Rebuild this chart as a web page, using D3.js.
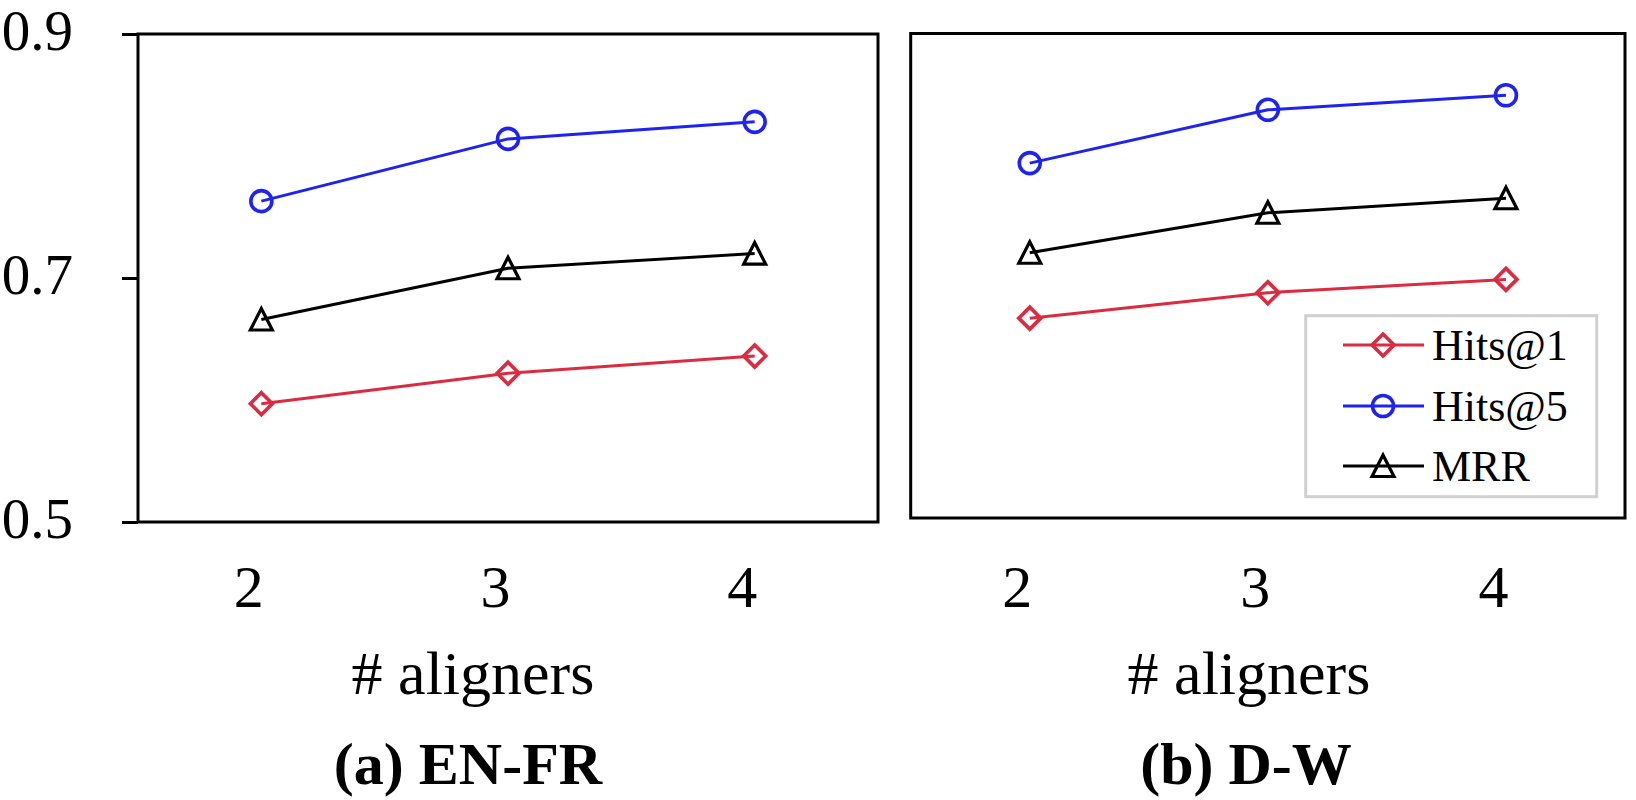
<!DOCTYPE html>
<html>
<head>
<meta charset="utf-8">
<script src="https://cdn.jsdelivr.net/npm/d3@7/dist/d3.min.js"></script>
<style>
  html, body { margin: 0; padding: 0; background: #fff; }
  svg { display: block; }
  text { font-family: "Liberation Serif", "Times New Roman", serif; fill: #000; }
</style>
</head>
<body>
<svg id="chart" width="1636" height="800"></svg>
<script>
// ---------- data ----------
const categories = [2, 3, 4];
const seriesNames = ["Hits@1", "Hits@5", "MRR"];
const enfrHits1 = [0.597, 0.622, 0.636];
const enfrHits5 = [0.763, 0.814, 0.828];
const enfrMRR   = [0.666, 0.708, 0.720];
const dwHits1   = [0.665, 0.686, 0.697];
const dwHits5   = [0.793, 0.837, 0.849];
const dwMRR     = [0.719, 0.752, 0.764];
const yTicks = [0.5, 0.7, 0.9];
const yTickLabels = ["0.5", "0.7", "0.9"];
const panelTitles = ["(a) EN-FR", "(b) D-W"];
const xTitle = "# aligners";

// ---------- styles ----------
const colors = { "Hits@1": "#dc2a40", "Hits@5": "#1e22f2", "MRR": "#000000" };
const symbolsOf = { "Hits@1": "diamond", "Hits@5": "circle", "MRR": "triangle" };

const svg = d3.select("#chart");

const panels = [
  { left: 138, right: 878, top: 34, bottom: 522, title: panelTitles[0],
    series: [enfrHits1, enfrHits5, enfrMRR], yAxis: true,
    xTitleX: 473, titleX: 468, legend: false },
  { left: 910.7, right: 1625, top: 33.5, bottom: 518, title: panelTitles[1],
    series: [dwHits1, dwHits5, dwMRR], yAxis: false,
    xTitleX: 1249, titleX: 1246, legend: true }
];

function drawMarker(g, type, color) {
  if (type === "circle") {
    g.append("circle").attr("r", 10.5).attr("fill", "none")
      .attr("stroke", color).attr("stroke-width", 3.6);
  } else if (type === "diamond") {
    g.append("path").attr("d", "M0,-11 L11,0 L0,11 L-11,0 Z").attr("fill", "none")
      .attr("stroke", color).attr("stroke-width", 3.6).attr("stroke-linejoin", "miter");
  } else {
    g.append("path").attr("d", "M0,-11 L11,10.5 L-11,10.5 Z").attr("fill", "none")
      .attr("stroke", color).attr("stroke-width", 3.2).attr("stroke-linejoin", "miter");
  }
}

panels.forEach(p => {
  const x = d3.scaleLinear().domain([1.5, 4.5]).range([p.left, p.right]);
  const y = d3.scaleLinear().domain([0.5, 0.9]).range([p.bottom, p.top]);
  const g = svg.append("g");

  // y axis (left panel only)
  if (p.yAxis) {
    const ya = g.append("g").attr("transform", `translate(${p.left},0)`)
      .call(d3.axisLeft(y).tickValues(yTicks).tickFormat((d, i) => yTickLabels[i])
        .tickSize(16).tickSizeOuter(0).tickPadding(49));
    ya.select(".domain").remove();
    ya.selectAll(".tick line").attr("stroke", "#000").attr("stroke-width", 3);
    ya.selectAll(".tick text").attr("font-size", 57).attr("dy", "0.27em")
      .style("font-family", "'Liberation Serif', serif");
  }

  // x axis labels
  const xa = g.append("g").attr("transform", `translate(0,${p.bottom})`)
    .call(d3.axisBottom(x).tickValues(categories).tickFormat(d3.format("d")).tickSize(0).tickPadding(0));
  xa.select(".domain").remove();
  xa.selectAll(".tick text").attr("font-size", 60).attr("dy", 0)
    .attr("x", -13).attr("y", 607 - p.bottom)
    .style("font-family", "'Liberation Serif', serif");

  // frame
  g.append("rect").attr("x", p.left).attr("y", p.top)
    .attr("width", p.right - p.left).attr("height", p.bottom - p.top)
    .attr("fill", "none").attr("stroke", "#000").attr("stroke-width", 3);

  // lines + markers
  const line = d3.line().x((d, i) => x(categories[i])).y(d => y(d));
  p.series.forEach((vals, si) => {
    const name = seriesNames[si];
    g.append("path").datum(vals).attr("d", line).attr("fill", "none")
      .attr("stroke", colors[name]).attr("stroke-width", 3);
    vals.forEach((v, i) => {
      const mg = g.append("g").attr("transform", `translate(${x(categories[i])},${y(v)})`);
      drawMarker(mg, symbolsOf[name], colors[name]);
    });
  });

  // titles
  g.append("text").attr("x", p.xTitleX).attr("y", 694).attr("text-anchor", "middle")
    .attr("font-size", 62).text(xTitle);
  g.append("text").attr("x", p.titleX).attr("y", 784).attr("text-anchor", "middle")
    .attr("font-size", 60).attr("font-weight", "bold").text(p.title);

  // legend
  if (p.legend) {
    const lg = g.append("g");
    lg.append("rect").attr("x", 1305.7).attr("y", 315.7).attr("width", 291).attr("height", 181)
      .attr("fill", "#fff").attr("stroke", "#d0d0d0").attr("stroke-width", 3);
    const rowY = [345, 406, 466];
    seriesNames.forEach((name, i) => {
      const r = lg.append("g").attr("transform", `translate(0,${rowY[i]})`);
      r.append("line").attr("x1", 1343).attr("x2", 1424).attr("y1", 0).attr("y2", 0)
        .attr("stroke", colors[name]).attr("stroke-width", 3);
      const mg = r.append("g").attr("transform", "translate(1383,0)");
      drawMarker(mg, symbolsOf[name], colors[name]);
      r.append("text").attr("x", 1432).attr("y", 15).attr("font-size", 44).text(name);
    });
  }
});
</script>
</body>
</html>
